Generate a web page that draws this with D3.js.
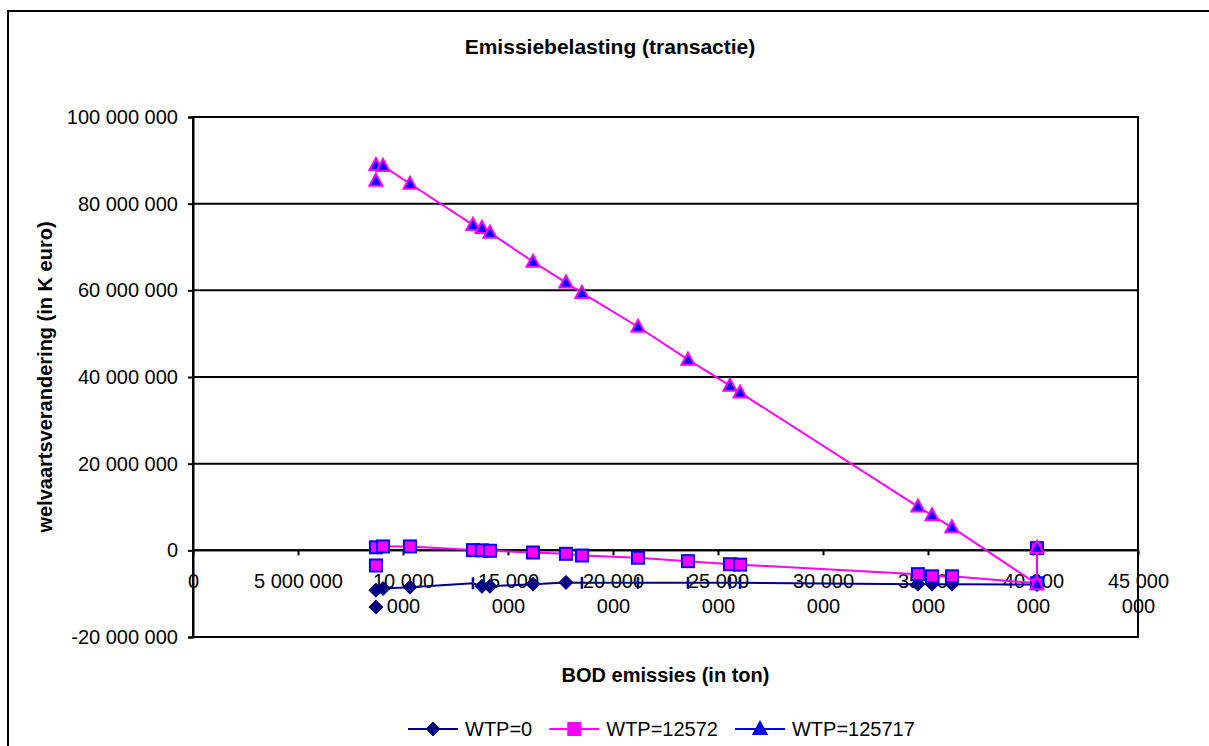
<!DOCTYPE html>
<html>
  <head>
    <meta charset="utf-8">
    <title>Emissiebelasting (transactie)</title>
    <script src="https://d3js.org/d3.v7.min.js"></script>
    <style>
      body { margin: 0; background: #fff; }
      svg text { font-family: "Liberation Sans", Arial, sans-serif; fill: #000; }
    </style>
  </head>
  <body>
    <div id="chart"></div>
    <script>
      // BOD emissions (ton) per row of the sheet, null = empty row
      const emissions = [8710000, null, 8710000, 9050000, 10330000, 13330000, 13760000, 14140000,
        16190000, 17760000, 18520000, 21190000, 23570000, 25570000, 26050000, 34520000,
        35190000, 36140000, 40190000, 40190000];
      // welfare change (K euro) for each willingness-to-pay scenario
      const wtp0 = [-13100000, null, -9200000, -8800000, -8500000, -7600000, -8300000, -8300000,
        -7800000, -7400000, -7500000, -7500000, -7500000, -7500000, -7500000, -7800000,
        -7800000, -7800000, -7900000, -7900000];
      const wtp12572 = [-3500000, null, 700000, 900000, 900000, 50000, 0, -100000,
        -500000, -800000, -1200000, -1700000, -2500000, -3200000, -3300000, -5500000,
        -6000000, -6000000, -7600000, 500000];
      const wtp125717 = [85300000, null, 88900000, 88700000, 84600000, 75100000, 74400000, 73300000,
        66600000, 61800000, 59400000, 51600000, 44000000, 38000000, 36400000, 10100000,
        8100000, 5300000, -7800000, 600000];
      // rows where the WTP=0 marker is drawn as a flat dash
      const wtp0Dashed = [5, 10, 11, 12, 13, 14, 18];
      const seriesNames = ["WTP=0", "WTP=12572", "WTP=125717"];
      const xTicks = d3.range(0, 45000001, 5000000);
      const yTicks = d3.range(-20000000, 100000001, 20000000);

      const width = 1209, height = 746;
      const plot = { left: 193, right: 1138, top: 117, bottom: 637 };
      const fmt = d3.formatLocale({ decimal: ",", thousands: " ", grouping: [3], currency: ["", ""], minus: "-" }).format(",");

      const svg = d3.select("#chart").append("svg")
        .attr("width", width)
        .attr("height", height);

      // chart area border
      svg.append("rect")
        .attr("x", 8).attr("y", 11)
        .attr("width", 1220).attr("height", 760)
        .attr("fill", "#fff")
        .attr("stroke", "#000")
        .attr("stroke-width", 2);

      const x = d3.scaleLinear().domain([0, 45000000]).range([plot.left, plot.right]);
      const y = d3.scaleLinear().domain([-20000000, 100000000]).range([plot.bottom, plot.top]);

      // gridlines
      svg.append("g")
        .selectAll("line")
        .data(yTicks)
        .enter().append("line")
          .attr("x1", plot.left).attr("x2", plot.right)
          .attr("y1", d => y(d)).attr("y2", d => y(d))
          .attr("stroke", "#000")
          .attr("stroke-width", 2);

      svg.append("rect")
        .attr("x", plot.left).attr("y", plot.top)
        .attr("width", plot.right - plot.left).attr("height", plot.bottom - plot.top)
        .attr("fill", "none")
        .attr("stroke", "#000")
        .attr("stroke-width", 2);

      // y axis
      const yAxis = svg.append("g")
        .attr("transform", "translate(" + plot.left + ",0)")
        .call(d3.axisLeft(y).tickValues(yTicks).tickSize(5).tickPadding(10).tickFormat(fmt));
      yAxis.select(".domain").attr("stroke", "#000").attr("stroke-width", 2);
      yAxis.selectAll(".tick line").attr("stroke", "#000").attr("stroke-width", 2);
      yAxis.selectAll("text").style("font-size", "20px").attr("fill", "#000");

      // x axis sits on y = 0
      const xAxis = svg.append("g")
        .attr("transform", "translate(0," + y(0) + ")")
        .call(d3.axisBottom(x).tickValues(xTicks).tickSize(5).tickFormat(""));
      xAxis.select(".domain").remove();
      xAxis.selectAll(".tick line").attr("stroke", "#000").attr("stroke-width", 2);
      const step = x(xTicks[1]) - x(xTicks[0]);
      xAxis.selectAll(".tick").append("text")
        .attr("y", 31)
        .attr("dy", "0.35em")
        .attr("text-anchor", "middle")
        .style("font-size", "20px")
        .attr("fill", "#000")
        .each(function(d) {
          const t = d3.select(this);
          const label = fmt(d);
          t.text(label);
          // wrap like the spreadsheet does when a label is wider than its slot
          if (this.getComputedTextLength() > step * 0.88) {
            const cut = label.lastIndexOf(" ");
            t.text(null);
            t.append("tspan").attr("x", 0).text(label.slice(0, cut));
            t.append("tspan").attr("x", 0).attr("dy", 25).text(label.slice(cut + 1));
          }
        });
      svg.append("line")
        .attr("x1", plot.left).attr("x2", plot.right)
        .attr("y1", y(0)).attr("y2", y(0))
        .attr("stroke", "#000")
        .attr("stroke-width", 2);

      // markers
      function diamond(g, color) {
        g.append("path").attr("d", "M0,-7L7,0L0,7L-7,0Z").attr("fill", color).attr("stroke", color);
      }
      function dash(g, color) {
        g.append("line").attr("y1", -6).attr("y2", 6).attr("stroke", color).attr("stroke-width", 2.5);
      }
      function square(g, fill, edge) {
        g.append("rect").attr("x", -6).attr("y", -6).attr("width", 12).attr("height", 12)
          .attr("fill", fill).attr("stroke", edge).attr("stroke-width", 2);
      }
      function triangle(g, fill, edge) {
        g.append("path").attr("d", "M0,-7L6.5,5L-6.5,5Z")
          .attr("fill", fill).attr("stroke", edge).attr("stroke-width", 2).attr("stroke-linejoin", "miter");
      }

      const series = [
        { values: wtp0, line: "#000080", width: 2,
          marker: (g, i) => wtp0Dashed.includes(i) ? dash(g, "#000080") : diamond(g, "#000080") },
        { values: wtp12572, line: "#FF00FF", width: 2,
          marker: g => square(g, "#FF00FF", "#0000FF") },
        { values: wtp125717, line: "#FF00FF", width: 2,
          marker: g => triangle(g, "#0000FF", "#FF00FF") }
      ];

      const rows = d3.range(emissions.length);
      series.forEach(function(s) {
        const line = d3.line()
          .defined(i => emissions[i] != null && s.values[i] != null)
          .x(i => x(emissions[i]))
          .y(i => y(s.values[i]));
        svg.append("path")
          .attr("d", line(rows))
          .attr("fill", "none")
          .attr("stroke", s.line)
          .attr("stroke-width", s.width);
        rows.filter(i => emissions[i] != null && s.values[i] != null).forEach(function(i) {
          const g = svg.append("g").attr("transform", "translate(" + x(emissions[i]) + "," + y(s.values[i]) + ")");
          s.marker(g, i);
        });
      });

      // titles
      svg.append("text")
        .attr("x", 610).attr("y", 47).attr("dy", "0.35em")
        .attr("text-anchor", "middle")
        .style("font-size", "21px").style("font-weight", "bold")
        .text("Emissiebelasting (transactie)");
      svg.append("text")
        .attr("x", (plot.left + plot.right) / 2).attr("y", 675).attr("dy", "0.35em")
        .attr("text-anchor", "middle")
        .style("font-size", "20px").style("font-weight", "bold")
        .text("BOD emissies (in ton)");
      svg.append("text")
        .attr("transform", "translate(45," + (plot.top + plot.bottom) / 2 + ") rotate(-90)")
        .attr("dy", "0.35em")
        .attr("text-anchor", "middle")
        .style("font-size", "20px").style("font-weight", "bold")
        .text("welvaartsverandering (in K euro)");

      // legend
      const legendMarks = [
        { line: "#000080", draw: g => diamond(g, "#000080") },
        { line: "#FF00FF", draw: g => square(g, "#FF00FF", "#FF00FF") },
        { line: "#0000FF", draw: g => triangle(g, "#0000FF", "#0000FF") }
      ];
      let lx = 408;
      seriesNames.forEach(function(name, k) {
        const g = svg.append("g").attr("transform", "translate(" + lx + ",729)");
        g.append("line").attr("x1", 0).attr("x2", 50)
          .attr("stroke", legendMarks[k].line).attr("stroke-width", 2);
        legendMarks[k].draw(g.append("g").attr("transform", "translate(25,0)"));
        const t = g.append("text").attr("x", 57).attr("dy", "0.35em")
          .style("font-size", "20px").text(name);
        lx += 57 + t.node().getComputedTextLength() + 17;
      });
    </script>
  </body>
</html>
